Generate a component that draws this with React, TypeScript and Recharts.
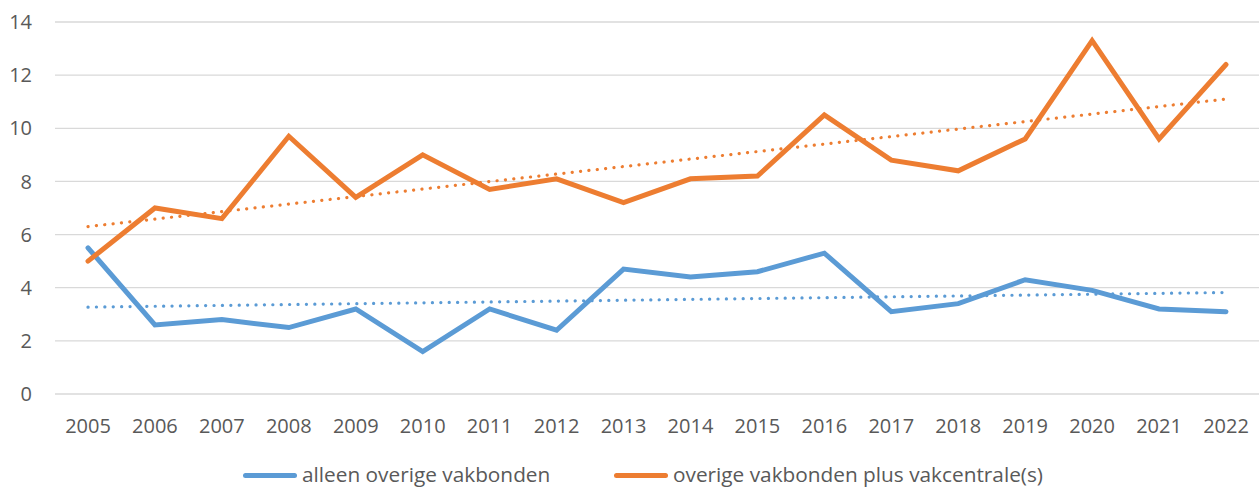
import { LineChart, Line, XAxis, YAxis, CartesianGrid } from 'recharts';

const years = [
  '2005', '2006', '2007', '2008', '2009', '2010', '2011', '2012', '2013',
  '2014', '2015', '2016', '2017', '2018', '2019', '2020', '2021', '2022',
];
const alleenOverige = [5.5, 2.6, 2.8, 2.5, 3.2, 1.6, 3.2, 2.4, 4.7, 4.4, 4.6, 5.3, 3.1, 3.4, 4.3, 3.9, 3.2, 3.1];
const overigePlus = [5.0, 7.0, 6.6, 9.7, 7.4, 9.0, 7.7, 8.1, 7.2, 8.1, 8.2, 10.5, 8.8, 8.4, 9.6, 13.3, 9.6, 12.4];
// trendline end points
const alleenTrend = [3.27, 3.82];
const overigeTrend = [6.3, 11.1];
const yTicks = [0, 2, 4, 6, 8, 10, 12, 14];
const seriesNames = ['alleen overige vakbonden', 'overige vakbonden plus vakcentrale(s)'];

const BLUE = '#5B9BD5';
const ORANGE = '#ED7D31';
const FONT = '"Open Sans", sans-serif';

const data = years.map((year, i) => ({
  year,
  alleen: alleenOverige[i],
  plus: overigePlus[i],
  alleenTrend: i === 0 ? alleenTrend[0] : i === years.length - 1 ? alleenTrend[1] : null,
  plusTrend: i === 0 ? overigeTrend[0] : i === years.length - 1 ? overigeTrend[1] : null,
}));

function LegendItem({ color, label, left }: { color: string; label: string; left: number }) {
  return (
    <div style={{ position: 'absolute', left, top: 460, height: 28, display: 'flex', alignItems: 'center', whiteSpace: 'nowrap' }}>
      <div style={{ width: 54, height: 5, borderRadius: 3, background: color, marginRight: 5, marginTop: 2 }} />
      <span style={{ fontFamily: FONT, fontSize: 20.8, color: '#595959', lineHeight: '28px' }}>{label}</span>
    </div>
  );
}

export default function App() {
  return (
    <div style={{ position: 'absolute', left: 0, top: 0, width: 1259, height: 488, overflow: 'hidden', background: '#fff' }}>
      <LineChart
        width={1259}
        height={488}
        data={data}
        margin={{ top: 22, right: 0, bottom: 0, left: 0 }}
      >
        <CartesianGrid vertical={false} stroke="#D9D9D9" strokeWidth={1.3} />
        <XAxis
          dataKey="year"
          axisLine={false}
          tickLine={false}
          tickSize={0}
          tickMargin={25}
          height={94}
          interval={0}
          padding={{ left: 33, right: 33 }}
          tick={{ fill: '#595959', fontSize: 20, fontFamily: FONT }}
        />
        <YAxis
          domain={[0, 14]}
          ticks={yTicks}
          axisLine={false}
          tickLine={false}
          tickSize={0}
          tickMargin={23}
          width={55}
          tick={{ fill: '#595959', fontSize: 20, fontFamily: FONT }}
        />
        <Line
          dataKey="alleenTrend"
          stroke={BLUE}
          strokeWidth={3.2}
          strokeDasharray="0.1 8.3"
          strokeLinecap="round"
          connectNulls
          dot={false}
          activeDot={false}
          isAnimationActive={false}
        />
        <Line
          dataKey="plusTrend"
          stroke={ORANGE}
          strokeWidth={3.2}
          strokeDasharray="0.1 8.3"
          strokeLinecap="round"
          connectNulls
          dot={false}
          activeDot={false}
          isAnimationActive={false}
        />
        <Line
          dataKey="alleen"
          name={seriesNames[0]}
          stroke={BLUE}
          strokeWidth={5}
          strokeLinecap="round"
          strokeLinejoin="miter"
          dot={false}
          isAnimationActive={false}
        />
        <Line
          dataKey="plus"
          name={seriesNames[1]}
          stroke={ORANGE}
          strokeWidth={5}
          strokeLinecap="round"
          strokeLinejoin="miter"
          dot={false}
          isAnimationActive={false}
        />
      </LineChart>
      <LegendItem color={BLUE} label={seriesNames[0]} left={243} />
      <LegendItem color={ORANGE} label={seriesNames[1]} left={614} />
    </div>
  );
}
